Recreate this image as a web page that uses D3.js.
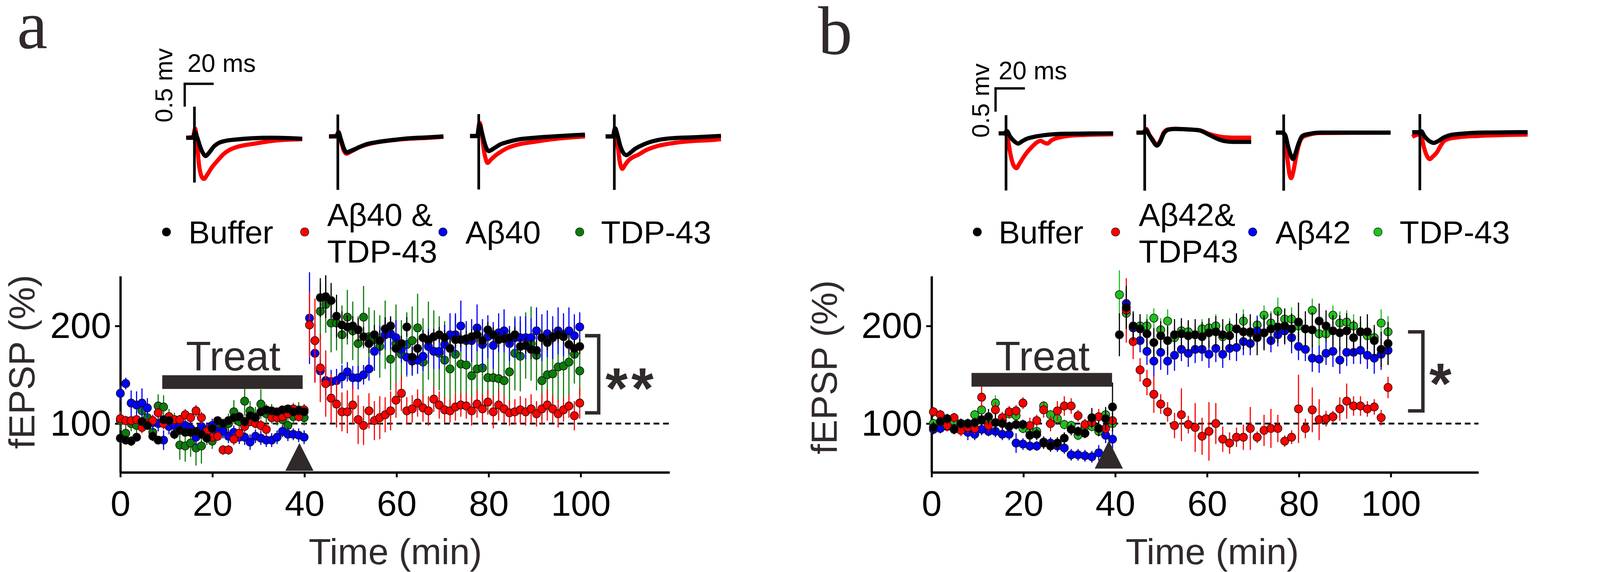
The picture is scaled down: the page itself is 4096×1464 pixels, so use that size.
<!DOCTYPE html>
<html>
<head>
<meta charset="utf-8">
<script src="https://cdn.jsdelivr.net/npm/d3@7"></script>
<style>
  body { margin: 0; background: #fff; }
  text { font-family: "Liberation Sans", Arial, sans-serif; }
</style>
</head>
<body>
<svg id="fig"></svg>
<script>
// ---- data ----
var xTicks = [0, 20, 40, 60, 80, 100];
var yTicks = [100, 200];

// sampling (min per point)
var timeStepA = 1.174, timeStartA = 0;
var timeStepB = 1.5, timeStartB = 0.4;

var legendA = [["Buffer"], ["A\u03b240 &", "TDP-43"], ["A\u03b240"], ["TDP-43"]];
var legendB = [["Buffer"], ["A\u03b242&", "TDP43"], ["A\u03b242"], ["TDP-43"]];

// panel a, fEPSP (%)
var bufferA = [85, 83, 82, 86, 102, 98, 87, 83, 104, 103, 89, 93, 91, 91, 92, 89, 85, 95, 103, 100, 103, 106, 107, 102, 108, 106, 112, 114, 113, 112, 114, 115, 112, 113, 112,
  null, null,
  229, 230, 226, 210, 201, 199, 200, 196, 189, 182, 191, 185, 197, 200, 177, 182, 199, 168, 177, 188, 186, 189,
  191, 188, 177, 186, 186, 187, 189, 191, 185, 196, 191, 186, 187, 188, 191, 179, 180, 176, 175, 188, 183, 189, 191, 189, 181, 177, 179];
var abTdpA = [105, 103, 103, 104, 96, 100, 103, 111, 100, 107, 104, 104, 109, 106, 113, 106, 92, 86, 87, 73, 73, 84, 90, 97, 102, 100, 98, 94, 106, 106, 107, 110, 115, 107, 114,
  201, 185, 157, 141, 126, 120, 112, 112, 119, 104, 98, 113, 103, 106, 109, 113, 124, 131, 113, 115, 121, 116, 113, 125, 119, 114, 113, 117, 119, 118,
  113, 120, 115, 122, 112, 119, 115, 111, 112, 114, 112, 115, 110, 115, 119, 115, 110, 114, 118, 108, 121];
var abA = [131, 141, 121, 119, 121, 116, 101, 100, 83, 97, 98, 98, 98, 95, 86, 97, 94, 98, 92, 92, 87, 91, 86, 86, 81, 87, 85, 83, 83, 86, 92, 89, 89, 88, 86,
  208, 172, 154, 144, 143, 144, 148, 153, 147, 147, 150, 156, 174, 185, 191, 192, 188, 176, 168, 164, 165, 169, 179, 174,
  174, 181, 191, 191, 200, 185, 185, 198, 181, 189, 180, 193, 195, 182, 188, 188, 188, 188, 195, 188, 192, 188, 195, 191, 195, 190, 199];
var tdpA = [103, 90, 100, 98, 113, 106, 91, 118, 117, 107, 103, 78, 77, 80, 75, 77, 88, 82, 97, 95, 100, 112, 102, 123, 113, 107, 120, 110, 110, 106, 104, 98, 107, 114, 106,
  null, null,
  215, 222, 203, 203, 191, 209, 195, 182, 209, 189, 186, 179, 191, 166, 182, 171, 181, 185, 198, 163, 185, 174,
  172, 165, 156, 171, 161, 160, 149, 156, 157, 147, 147, 146, 144, 153, 172, 169, 180, 182, 170, 144, 150, 151, 158, 159, 163, 171, 154];

var bufferErrA = [4, 4, 5, 4, 4, 4, 5, 4, 4, 4, 5, 4, 4, 4, 4, 4, 5, 4, 4, 4, 4, 4, 4, 5, 4, 4, 4, 4, 4, 4, 4, 4, 4, 4, 4,
  0, 0,
  20, 22, 18, 22, 14, 12, 10, 12, 10, 10, 10, 10, 12, 10, 10, 8, 10, 10, 10, 8, 8, 8,
  8, 8, 10, 8, 8, 8, 8, 8, 8, 8, 8, 8, 8, 8, 8, 8, 8, 10, 10, 8, 8, 8, 8, 8, 10, 10, 8];
var abTdpErrA = [6, 5, 5, 5, 6, 5, 5, 6, 6, 5, 5, 5, 6, 5, 6, 6, 6, 6, 5, 5, 5, 6, 6, 6, 5, 5, 6, 6, 5, 5, 5, 5, 6, 5, 6,
  34, 43, 35, 34, 25, 24, 20, 22, 20, 25, 20, 18, 20, 22, 18, 20, 18, 18, 14, 14, 14, 14, 15, 13, 14, 13, 12, 14, 12, 13,
  15, 14, 15, 13, 17, 16, 14, 13, 13, 14, 14, 15, 13, 16, 16, 14, 14, 12, 12, 15, 16];
var abErrA = [8, 6, 13, 14, 15, 10, 8, 8, 10, 8, 7, 7, 7, 8, 8, 8, 7, 7, 7, 7, 7, 7, 7, 8, 8, 7, 7, 7, 7, 7, 6, 7, 6, 7, 7,
  47, 30, 12, 15, 12, 12, 12, 10, 12, 12, 10, 12, 20, 15, 15, 16, 18, 14, 18, 15, 14, 15, 18, 18, 18, 20, 22, 22, 26, 20,
  22, 24, 26, 22, 24, 20, 22, 18, 20, 22, 22, 20, 24, 24, 24, 22, 24, 22, 24, 22, 15];
var tdpErrA = [10, 8, 8, 8, 9, 8, 8, 12, 12, 8, 8, 15, 16, 14, 18, 18, 10, 8, 10, 10, 10, 12, 10, 15, 10, 10, 15, 10, 10, 8, 8, 8, 8, 8, 8,
  0, 0,
  29, 29, 30, 28, 30, 28, 30, 28, 32, 30, 30, 32, 35, 32, 40, 35, 33, 35, 35, 45, 40, 42, 38, 40, 38, 40, 38, 36, 36, 35,
  40, 36, 40, 38, 35, 34, 38, 36, 34, 38, 36, 40, 40, 38, 36, 36, 35, 30, 25];

// panel b, fEPSP (%)
var bufferB = [96, 102, 105, 94, 100, 100, 101, 104, 107, 101, 100, 97, 99, 99, 88, 89, 80, 77, 80, 85, 94, 92, 90, 106, 95, 105, 117,
  191, 219, 200, 197, 192, 183, 190, 185, 191, 192, 190, 191, 189, 193, 194, 191, 190, 197,
  194, 194, 188, 193, 197, 199, 200, 197, 204, 197, 196, 205, 200, 195, 193, 195, 188, 194, 194, 185, 176, 182];
var abTdpB = [112, 109, 98, 106, 93, 96, 95, 127, 98, 114, 106, 112, 113, 121, 98, 103, 114, 100, 113, 118, 118, 108, 99, 101, 107, 95, 103,
  null,
  216, 184, 155, 142, 130, 120, 112, 98, 109, 99, 96, 87, 92, 100, 84, 80, 86,
  86, 95, 86, 93, 95, 95, 82, 86, 115, 95, 114, 104, 105, 107, 115, 123, 118, 118, 115, 117, 106, 137];
var abB = [94, 95, 97, 95, 100, 91, 89, 94, 92, 92, 89, 89, 80, 79, 77, 77, 81, 80, 77, 75, 68, 68, 67, 66, 70, 88, 84,
  null,
  223, 198, 185, 174, 164, 173, 164, 170, 176, 172, 176, 176, 171, 177, 171, 177, 178,
  184, 182, 195, 193, 185, 191, 195, 188, 179, 176, 167, 166, 172, 174, 165, 173, 173, 175, 170, 167, 171, 175];
var tdpB = [100, 102, 99, 102, 100, 100, 109, 114, 102, 121, 103, 110, 108, 95, 92, 92, 118, 109, 105, 99, 98, 88, 97, 97, 92, 109, 100,
  232, 213, 199, 200, 200, 208, 196, 205, 188, 195, 194, 191, 197, 198, 200, 189, 198, 197,
  205, 193, 201, 211, 203, 215, 207, 207, 200, 197, 216, 192, 192, 211, 203, 204, 200, 194, 190, 188, 203, 194];

var bufferErrB = [6, 5, 5, 5, 5, 5, 5, 6, 8, 10, 6, 5, 5, 5, 6, 6, 6, 6, 6, 6, 6, 5, 5, 10, 8, 12, 25,
  22, 22, 15, 15, 15, 15, 15, 15, 16, 16, 16, 16, 15, 15, 16, 16, 15, 16, 18, 18, 18, 18, 16, 16, 18, 16, 20, 18, 18, 18,
  16, 16, 18, 18, 18, 16, 18, 16, 18, 22];
var abTdpErrB = [5, 5, 6, 5, 6, 6, 6, 11, 6, 8, 6, 6, 6, 6, 8, 6, 8, 8, 10, 10, 8, 6, 6, 6, 8, 6, 8,
  0,
  33, 18, 12, 13, 19, 10, 10, 13, 27, 9, 25, 19, 30, 21, 13, 11, 10, 13, 22, 6, 16, 20, 14, 6, 7, 35, 10, 23, 21, 8,
  6, 12, 18, 10, 10, 8, 8, 8, 11];
var abErrB = [5, 5, 5, 5, 5, 8, 6, 6, 5, 6, 6, 6, 10, 6, 5, 5, 6, 6, 6, 6, 6, 6, 6, 6, 8, 8, 10,
  0,
  15, 15, 12, 14, 16, 18, 14, 16, 12, 14, 14, 12, 14, 14, 14, 12, 14, 14, 12, 15, 16, 12, 12, 14, 16, 14, 12, 14, 14, 12,
  16, 14, 14, 12, 14, 14, 16, 16, 14];
var tdpErrB = [5, 5, 5, 5, 5, 5, 5, 6, 5, 8, 5, 5, 5, 5, 5, 5, 5, 5, 5, 5, 5, 5, 5, 5, 5, 6, 5,
  25, 20, 12, 12, 12, 10, 12, 12, 10, 10, 10, 10, 10, 10, 12, 10, 10, 10, 12, 12, 10, 10, 12, 14, 10, 12, 12, 10, 12, 12,
  10, 10, 12, 12, 12, 10, 10, 10, 14, 16];

var treatWindowA = [9.1, 39.6], treatWindowB = [8.7, 39.3];
var arrowTimeA = 38.9, arrowTimeB = 38.6;
var bracketA = [111, 190], bracketB = [113, 194];

// example fEPSP traces: [ms after stimulus, mV]; black = baseline, red = after treatment
var traceA1Base = [[-5.7, 0], [-1, 0], [0.5, 0.12], [2, 0], [4, -0.2], [6, -0.34], [7.8, -0.4], [10, -0.33], [13.8, -0.18], [17, -0.11], [21, -0.07], [28, -0.04], [40, -0.01], [53, 0], [74.5, -0.02]];
var traceA1Post = [[-5.7, 0], [-1, 0.02], [0.5, 0.2], [1.5, 0], [3, -0.55], [5, -0.85], [6.5, -0.9], [9, -0.8], [12, -0.65], [16, -0.5], [20, -0.36], [24, -0.27], [28.5, -0.21], [35, -0.16], [41, -0.13], [53, -0.07], [74.5, -0.03]];
var traceA2Base = [[-6.1, 0], [-1, 0], [0.5, 0.08], [2, -0.05], [4, -0.25], [6, -0.35], [8, -0.33], [11, -0.29], [14.5, -0.24], [20, -0.17], [27, -0.125], [39, -0.075], [50, -0.04], [63, -0.02], [73, 0]];
var traceA2Post = [[-6.1, 0], [-1, 0.01], [0.5, 0.1], [2, -0.08], [4, -0.3], [6, -0.38], [8, -0.35], [11, -0.3], [14.5, -0.24], [20, -0.18], [27, -0.13], [39, -0.08], [50, -0.05], [63, -0.03], [73, -0.01]];
var traceA3Base = [[-6, 0], [-1, 0], [0.5, 0.25], [2, 0.1], [4, -0.15], [5.5, -0.28], [7, -0.33], [9, -0.3], [11.5, -0.25], [14.5, -0.19], [20, -0.13], [26.6, -0.08], [38, -0.04], [51, -0.01], [73.4, 0.03]];
var traceA3Post = [[-6, 0], [-1, 0], [0.5, 0.29], [2, 0.1], [3.5, -0.3], [5, -0.52], [6.1, -0.59], [8, -0.53], [11, -0.44], [14.5, -0.36], [20, -0.26], [26.6, -0.19], [39, -0.125], [51, -0.07], [73.4, -0.01]];
var traceA4Base = [[-6, 0], [-1, 0], [0.5, 0.18], [2, 0.05], [4, -0.2], [6, -0.35], [8.4, -0.41], [11, -0.36], [14, -0.28], [18, -0.21], [24, -0.13], [30, -0.08], [40, -0.04], [55, -0.02], [73.7, 0.01]];
var traceA4Post = [[-6, 0], [-1, 0], [0.5, 0.15], [2, -0.1], [3.5, -0.5], [5.5, -0.71], [7.5, -0.62], [10, -0.52], [12.5, -0.46], [16, -0.41], [22, -0.3], [30, -0.21], [42, -0.14], [55, -0.1], [67, -0.08], [73.7, -0.06]];
var traceB1Base = [[-5, 0], [-1, 0], [0.5, 0.05], [3, -0.08], [6, -0.18], [8.2, -0.22], [11, -0.17], [14, -0.12], [20, -0.07], [26, -0.04], [40, -0.01], [73, 0]];
var traceB1Post = [[-5, 0], [-1, 0], [1, -0.1], [3, -0.45], [5, -0.68], [7.1, -0.75], [9, -0.66], [11.8, -0.52], [14, -0.42], [16.5, -0.33], [20, -0.22], [23.5, -0.16], [26, -0.2], [28.2, -0.22], [31, -0.15], [37.5, -0.08], [49, -0.04], [73, -0.02]];
var traceB2Base = [[-5.6, 0], [-1, 0], [1, 0.05], [3, -0.05], [5, -0.15], [8.4, -0.28], [10.5, -0.2], [13, -0.02], [16, 0.06], [20.6, 0.08], [28, 0.07], [37, 0.05], [44, -0.05], [50, -0.14], [54, -0.18], [60, -0.2], [72.6, -0.2]];
var traceB2Post = [[-5.6, 0], [-1, 0], [1, 0.08], [3, -0.04], [5, -0.13], [8.4, -0.26], [10.5, -0.18], [13, 0], [16, 0.07], [20.6, 0.08], [28, 0.07], [37, 0.05], [44, -0.03], [50, -0.08], [54, -0.1], [60, -0.11], [72.6, -0.11]];
var traceB3Base = [[-5.3, 0], [-1, 0], [1, -0.05], [3, -0.3], [5, -0.5], [6.4, -0.57], [8, -0.45], [10, -0.25], [12.9, -0.07], [17, -0.03], [25, 0], [72.9, 0]];
var traceB3Post = [[-5.3, 0], [-1, 0], [1, -0.1], [2.5, -0.55], [4, -0.9], [5.1, -0.98], [6.5, -0.85], [8, -0.6], [10, -0.3], [12.9, -0.1], [17, -0.05], [25, -0.01], [72.9, 0]];
var traceB4Base = [[-5.2, 0], [-1, 0], [1, 0.02], [3, -0.08], [6, -0.18], [9.6, -0.23], [12, -0.2], [16.6, -0.11], [21, -0.06], [26, -0.04], [40, -0.01], [73.5, 0]];
var traceB4Post = [[-5.2, -0.1], [-1, -0.05], [1, -0.1], [3, -0.35], [5, -0.52], [6.8, -0.58], [9, -0.52], [11.7, -0.43], [14, -0.3], [16.6, -0.19], [20, -0.14], [26, -0.11], [40, -0.08], [73.5, -0.05]];
// stimulus artefact extent [top, bottom] in mV
var stimA = [[0.68, -0.98], [0.48, -1.17], [0.48, -1.17], [0.48, -1.17]];
var stimB = [[0.39, -1.23], [0.39, -1.25], [0.39, -1.25], [0.39, -1.25]];

// ---- drawing ----
var DARK = "#302a2a";
var FONT = '"Liberation Sans", Arial, sans-serif';
var svg = d3.select("#fig").attr("width", 4096).attr("height", 1464);
var root = svg.append("g").attr("transform", "scale(0.975)");

var panels = [
  {
    letter: "a", letterX: 45, letterY: 126,
    left: 316, right: 1758, xMax: 119.3, step: timeStepA, t0: timeStartA,
    series: [
      { values: tdpA, err: tdpErrA, color: "#0b7c0b" },
      { values: abA, err: abErrA, color: "#0000ff" },
      { values: abTdpA, err: abTdpErrA, color: "#ff0000" },
      { values: bufferA, err: bufferErrA, color: "#000000" }
    ],
    legend: legendA, legendColors: ["#000000", "#ff0000", "#0000ff", "#0b7c0b"],
    legendDots: [437, 800, 1163, 1522], legendText: [495, 859, 1222, 1578],
    treat: treatWindowA, treatY: 985, arrowT: arrowTimeA, arrowTop: 1163,
    bracket: bracketA, bracketX: [1536, 1572], stars: [1619, 1687], starY: 1071,
    ylabelX: 90, ylabelY: 950, xlabelX: 1038,
    scaleBar: [485, 220], barH: 60, barW: 76, msLabel: [492, 189], mvLabel: [452, 224],
    traces: [[traceA1Base, traceA1Post], [traceA2Base, traceA2Post], [traceA3Base, traceA3Post], [traceA4Base, traceA4Post]],
    stim: stimA, stimX: [510.5, 887, 1257, 1613], baseY: [361.7, 358, 357, 358], pxMs: 3.8, pxMv: 120
  },
  {
    letter: "b", letterX: 2148, letterY: 142,
    left: 2446, right: 3882, xMax: 119.1, step: timeStepB, t0: timeStartB,
    series: [
      { values: tdpB, err: tdpErrB, color: "#1fbf1f" },
      { values: abB, err: abErrB, color: "#0000ff" },
      { values: abTdpB, err: abTdpErrB, color: "#ff0000" },
      { values: bufferB, err: bufferErrB, color: "#000000" }
    ],
    legend: legendB, legendColors: ["#000000", "#ff0000", "#0000ff", "#1fbf1f"],
    legendDots: [2566, 2929, 3289, 3618], legendText: [2622, 2990, 3349, 3675],
    treat: treatWindowB, treatY: 979, arrowT: arrowTimeB, arrowTop: 1157,
    bracket: bracketB, bracketX: [3697, 3736], stars: [3782], starY: 1058,
    ylabelX: 2197, ylabelY: 964, xlabelX: 3183,
    scaleBar: [2614, 232], barH: 61, barW: 77, msLabel: [2622, 208], mvLabel: [2597, 264],
    traces: [[traceB1Base, traceB1Post], [traceB2Base, traceB2Post], [traceB3Base, traceB3Post], [traceB4Base, traceB4Post]],
    stim: stimB, stimX: [2641.5, 3005.6, 3370.5, 3728], baseY: [350, 348, 348, 347], pxMs: 3.85, pxMv: 122
  }
];

panels.forEach(function (p) {
  var g = root.append("g");
  var x = d3.scaleLinear().domain([0, p.xMax]).range([p.left, p.right]);
  var y = d3.scaleLinear().domain([50, 251]).range([1240, 725]);

  // panel letter
  g.append("text").attr("x", p.letterX).attr("y", p.letterY)
    .style("font-family", '"Liberation Serif", "Times New Roman", serif')
    .style("font-size", "180px").attr("fill", DARK).text(p.letter);

  // example traces
  p.traces.forEach(function (pair, k) {
    var tx = d3.scaleLinear().domain([0, 20]).range([p.stimX[k], p.stimX[k] + 20 * p.pxMs]);
    var ty = d3.scaleLinear().domain([0, 0.5]).range([p.baseY[k], p.baseY[k] - 0.5 * p.pxMv]);
    var line = d3.line().x(function (d) { return tx(d[0]); }).y(function (d) { return ty(d[1]); })
      .curve(d3.curveMonotoneX);
    g.append("path").attr("d", line(pair[1])).attr("fill", "none")
      .attr("stroke", "#ff0000").attr("stroke-width", 11).attr("stroke-linejoin", "round");
    g.append("path").attr("d", line(pair[0])).attr("fill", "none")
      .attr("stroke", "#000").attr("stroke-width", 11).attr("stroke-linejoin", "round");
    g.append("line").attr("x1", tx(0)).attr("x2", tx(0))
      .attr("y1", ty(p.stim[k][0])).attr("y2", ty(p.stim[k][1]))
      .attr("stroke", "#000").attr("stroke-width", 7);
  });

  // scale bar
  var sb = p.scaleBar;
  g.append("path")
    .attr("d", "M" + sb[0] + "," + (sb[1] + p.barH) + "V" + sb[1] + "H" + (sb[0] + p.barW))
    .attr("fill", "none").attr("stroke", "#000").attr("stroke-width", 6);
  g.append("text").attr("x", p.msLabel[0]).attr("y", p.msLabel[1])
    .style("font-size", "66px").attr("fill", "#000").text("20 ms");
  g.append("text").attr("transform", "translate(" + p.mvLabel[0] + "," + p.mvLabel[1] + ") rotate(-90)")
    .attr("text-anchor", "middle").style("font-size", "65px").attr("fill", "#000").text("0.5 mv");

  // legend
  p.legend.forEach(function (lines, k) {
    g.append("circle").attr("cx", p.legendDots[k]).attr("cy", 609).attr("r", 11)
      .attr("fill", p.legendColors[k]).attr("stroke", "#111").attr("stroke-width", 1.2);
    var base = lines.length === 1 ? [639] : [593, 689];
    lines.forEach(function (s, j) {
      g.append("text").attr("x", p.legendText[k]).attr("y", base[j])
        .style("font-size", "84px").attr("fill", "#000").text(s);
    });
  });

  // axes
  var xAxis = d3.axisBottom(x).tickValues(xTicks).tickSize(13).tickPadding(34).tickSizeOuter(0);
  var yAxis = d3.axisLeft(y).tickValues(yTicks).tickSize(14).tickPadding(10).tickSizeOuter(0);
  var gx = g.append("g").attr("transform", "translate(0,1240)").call(xAxis);
  var gy = g.append("g").attr("transform", "translate(" + p.left + ",0)").call(yAxis);
  [gx, gy].forEach(function (ax) {
    ax.attr("font-family", FONT).attr("font-size", 96);
    ax.select(".domain").attr("stroke", "#000").attr("stroke-width", 6);
    ax.selectAll(".tick line").attr("stroke", "#000").attr("stroke-width", 5);
    ax.selectAll(".tick text").attr("fill", "#000");
  });
  gx.attr("font-size", 94);

  g.append("text").attr("x", p.xlabelX).attr("y", 1481).attr("text-anchor", "middle")
    .style("font-size", "96px").attr("fill", DARK).text("Time (min)");
  g.append("text").attr("transform", "translate(" + p.ylabelX + "," + p.ylabelY + ") rotate(-90)")
    .attr("text-anchor", "middle").style("font-size", "96px").attr("fill", DARK).text("fEPSP (%)");

  // 100 % reference
  g.append("line").attr("x1", x(0)).attr("x2", x(p.xMax)).attr("y1", y(100)).attr("y2", y(100))
    .attr("stroke", "#000").attr("stroke-width", 5).attr("stroke-dasharray", "15,10");

  // series: error bars then points
  p.series.forEach(function (s) {
    var pts = s.values.map(function (v, i) {
      return { t: p.t0 + i * p.step, v: v, e: s.err[i] };
    }).filter(function (d) { return d.v != null; });
    var sg = g.append("g");
    sg.selectAll("line").data(pts).join("line")
      .attr("x1", function (d) { return x(d.t); }).attr("x2", function (d) { return x(d.t); })
      .attr("y1", function (d) { return y(d.v - d.e); }).attr("y2", function (d) { return y(d.v + d.e); })
      .attr("stroke", s.color).attr("stroke-width", 3);
    sg.selectAll("circle").data(pts).join("circle")
      .attr("cx", function (d) { return x(d.t); }).attr("cy", function (d) { return y(d.v); })
      .attr("r", 10.8).attr("fill", s.color).attr("stroke", "#1a1010").attr("stroke-width", 1.6);
  });

  // treatment bar and label
  g.append("rect").attr("x", x(p.treat[0])).attr("y", p.treatY)
    .attr("width", x(p.treat[1]) - x(p.treat[0])).attr("height", 36).attr("fill", DARK);
  g.append("text").attr("x", x((p.treat[0] + p.treat[1]) / 2) + 2).attr("y", 972)
    .attr("text-anchor", "middle").style("font-size", "108px").attr("fill", DARK).text("Treat");

  // arrowhead marking washout
  var ax0 = x(p.arrowT);
  g.append("path")
    .attr("d", "M" + ax0 + "," + p.arrowTop + "L" + (ax0 + 37) + "," + (p.arrowTop + 73) + "L" + (ax0 - 37) + "," + (p.arrowTop + 73) + "Z")
    .attr("fill", DARK);

  // significance bracket
  g.append("path")
    .attr("d", "M" + p.bracketX[0] + "," + y(p.bracket[1]) + "H" + p.bracketX[1] + "V" + y(p.bracket[0]) + "H" + p.bracketX[0])
    .attr("fill", "none").attr("stroke", DARK).attr("stroke-width", 9);
  p.stars.forEach(function (sx) {
    g.append("text").attr("x", sx).attr("y", p.starY).attr("text-anchor", "middle")
      .style("font-size", "150px").style("font-weight", "bold").attr("fill", DARK).text("*");
  });
});
</script>
</body>
</html>
